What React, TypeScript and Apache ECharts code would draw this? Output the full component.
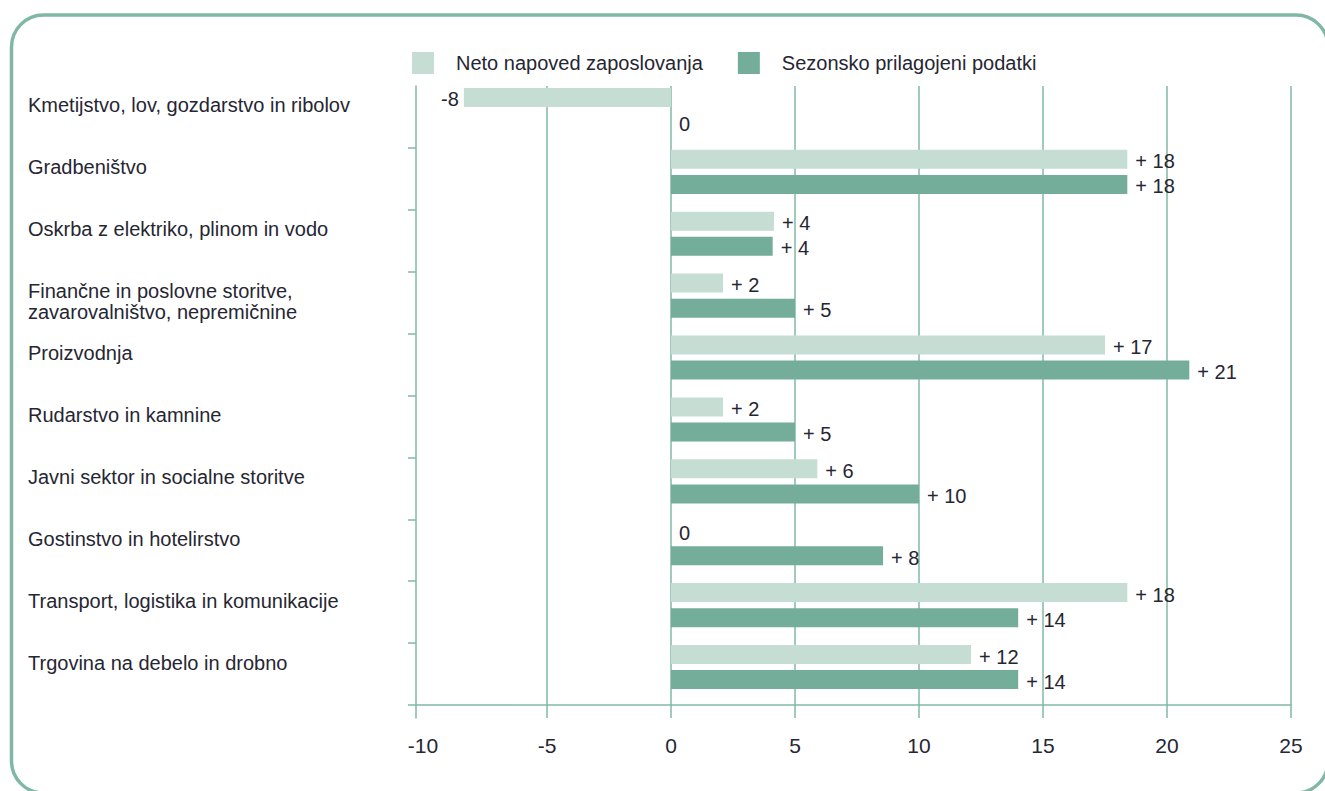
import React, { useEffect, useRef } from "react";
import * as echarts from "echarts";

const categories = [
  "Kmetijstvo, lov, gozdarstvo in ribolov",
  "Gradbeništvo",
  "Oskrba z elektriko, plinom in vodo",
  "Finančne in poslovne storitve,\nzavarovalništvo, nepremičnine",
  "Proizvodnja",
  "Rudarstvo in kamnine",
  "Javni sektor in socialne storitve",
  "Gostinstvo in hotelirstvo",
  "Transport, logistika in komunikacije",
  "Trgovina na debelo in drobno",
];

const seriesNames = ["Neto napoved zaposlovanja", "Sezonsko prilagojeni podatki"];

// bar lengths as drawn in the picture
const netValues = [-8.35, 18.4, 4.15, 2.1, 17.5, 2.1, 5.9, 0, 18.4, 12.1];
const seasonalValues = [0, 18.4, 4.1, 5.0, 20.9, 5.0, 10.0, 8.55, 14.0, 14.0];

// printed value labels
const netLabels = [-8, 18, 4, 2, 17, 2, 6, 0, 18, 12];
const seasonalLabels = [0, 18, 4, 5, 21, 5, 10, 8, 14, 14];

const xTicks = { min: -10, max: 25, interval: 5 };

const LIGHT = "#c5ddd3";
const DARK = "#74ad99";
const LINE = "#80b8a4";
const TEXT = "#262633";

const fmt = (v: number) => (v > 0 ? "+ " + v : String(v));

export default function App() {
  const ref = useRef<HTMLDivElement>(null);
  useEffect(() => {
    if (!ref.current) return;
    const chart = echarts.init(ref.current, null, { renderer: "svg" });
    const mk = (vals: number[]) =>
      vals.map((v) => ({
        value: v,
        label: { position: v < 0 ? "left" : "right", distance: v < 0 ? 5 : 8 },
      }));
    const labelBase = {
      show: true,
      fontSize: 20,
      color: TEXT,
      offset: [0, 2],
    };
    chart.setOption({
      animation: false,
      textStyle: { fontFamily: "'Liberation Sans', Arial, sans-serif" },
      graphic: [
        {
          type: "rect",
          z: -10,
          shape: { x: 11.5, y: 15, width: 1316.5, height: 778, r: 32 },
          style: { fill: "none", stroke: LINE, lineWidth: 3.5 },
        },
      ],
      legend: {
        data: seriesNames,
        left: 407,
        top: 47,
        itemWidth: 22,
        itemHeight: 22,
        itemGap: 35,
        icon: "rect",
        textStyle: { fontSize: 20, color: TEXT, padding: [0, 0, 0, 17] },
      },
      grid: [
        { left: 423, right: 34, top: 86, bottom: 73 },
        { left: 416, right: 34, top: 86, bottom: 86 },
        { left: 423, right: 34, top: 79, bottom: 93 },
        { left: 423, right: 34, top: 64, bottom: 108 },
      ],
      xAxis: [
        {
          gridIndex: 0,
          type: "value",
          min: xTicks.min,
          max: xTicks.max,
          interval: xTicks.interval,
          axisLine: { show: false },
          axisTick: { show: false },
          splitLine: { show: true, showMinLine: false, lineStyle: { color: LINE, width: 1.5 } },
          axisLabel: {
            margin: 17,
            fontSize: 21,
            color: TEXT,
            fontFamily: "'Liberation Sans Narrow', 'Liberation Sans', sans-serif",
          },
        },
        {
          gridIndex: 1,
          type: "value",
          min: 0,
          max: 1,
          axisLine: { show: true, onZero: false, lineStyle: { color: LINE, width: 1.5 } },
          axisTick: { show: false },
          axisLabel: { show: false },
          splitLine: { show: false },
        },
        { gridIndex: 2, type: "value", min: xTicks.min, max: xTicks.max, show: false },
        { gridIndex: 3, type: "value", min: 0, max: 1, show: false },
      ],
      yAxis: [
        {
          gridIndex: 0,
          type: "value",
          offset: 7,
          axisLine: { show: true, onZero: false, lineStyle: { color: LINE, width: 1.5 } },
          axisTick: { show: false },
          axisLabel: { show: false },
          splitLine: { show: false },
        },
        {
          gridIndex: 1,
          type: "category",
          data: categories,
          inverse: true,
          axisLine: { show: false },
          axisTick: {
            show: true,
            length: 8,
            interval: (i: number) => i > 0,
            lineStyle: { color: LINE, width: 1.5 },
          },
          axisLabel: { show: false },
        },
        { gridIndex: 2, type: "category", data: categories, inverse: true, show: false },
        {
          gridIndex: 3,
          type: "category",
          data: categories,
          inverse: true,
          axisLine: { show: false },
          axisTick: { show: false },
          axisLabel: {
            align: "left",
            margin: 395,
            verticalAlign: "top",
            lineHeight: 21,
            fontSize: 20,
            color: TEXT,
          },
        },
      ],
      series: [
        {
          name: seriesNames[0],
          type: "bar",
          xAxisIndex: 2,
          yAxisIndex: 2,
          barWidth: 19,
          barGap: "32%",
          itemStyle: { color: LIGHT },
          data: mk(netValues),
          label: { ...labelBase, formatter: (p: any) => fmt(netLabels[p.dataIndex]) },
        },
        {
          name: seriesNames[1],
          type: "bar",
          xAxisIndex: 2,
          yAxisIndex: 2,
          barWidth: 19,
          barGap: "32%",
          itemStyle: { color: DARK },
          data: mk(seasonalValues),
          label: { ...labelBase, formatter: (p: any) => fmt(seasonalLabels[p.dataIndex]) },
        },
      ],
    });
    return () => chart.dispose();
  }, []);
  return (
    <div
      ref={ref}
      style={{ position: "absolute", left: 0, top: 0, width: 1325, height: 791, background: "#fff" }}
    />
  );
}
